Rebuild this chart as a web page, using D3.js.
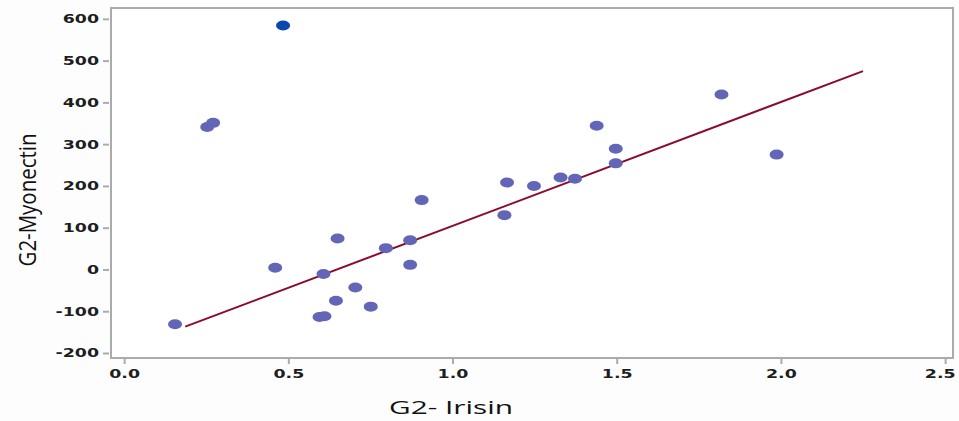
<!DOCTYPE html>
<html>
<head>
<meta charset="utf-8">
<script src="https://cdn.jsdelivr.net/npm/d3@7"></script>
<style>
  html, body { margin: 0; padding: 0; background: #fdfdfd; }
  svg { display: block; }
</style>
</head>
<body>
<div id="chart"></div>
<script>
// Data (G2 group)
const irisin = [0.155, 0.253, 0.271, 0.46, 0.906, 0.65, 0.871, 0.797, 0.871, 0.607, 0.704,
  0.645, 0.751, 0.595, 0.61, 1.166, 1.248, 1.329, 1.373, 1.497, 1.158, 1.819, 1.439, 1.497, 1.987];
const myonectin = [-131, 341, 351, 4, 166, 74, 70, 51, 11, -11, -43,
  -75, -89, -114, -112, 208, 200, 220, 217, 254, 130, 419, 344, 289, 275];

// the highlighted (selected) point
const selIrisin = [0.484];
const selMyonectin = [584];

// fit line end points
const fitX = [0.186, 2.25];
const fitY = [-137, 475];

const xTicks = [0.0, 0.5, 1.0, 1.5, 2.0, 2.5];
const yTicks = [-200, -100, 0, 100, 200, 300, 400, 500, 600];

const xTitle = "G2- Irisin";
const yTitle = "G2-Myonectin";

//==========================================
// Layout
//==========================================
const W = 959, H = 421;
const frame = { left: 111, top: 8, right: 953, bottom: 358 };
const STRETCH = 1.45; // labels in the picture are drawn wide

const svg = d3.select("#chart").append("svg")
  .attr("width", W)
  .attr("height", H);

svg.append("rect")
  .attr("width", W).attr("height", H)
  .attr("fill", "#fdfdfd");

const x = d3.scaleLinear()
  .domain([-0.04, 2.524])
  .range([frame.left, frame.right]);

const y = d3.scaleLinear()
  .domain([-212, 626])
  .range([frame.bottom, frame.top]);

// plot frame
svg.append("rect")
  .attr("x", frame.left)
  .attr("y", frame.top)
  .attr("width", frame.right - frame.left)
  .attr("height", frame.bottom - frame.top)
  .attr("fill", "#ffffff")
  .attr("stroke", "#ababab")
  .attr("stroke-width", 2);

// stretch a tick label horizontally around its anchor
function widen(sel) {
  sel.each(function () {
    const t = d3.select(this);
    const tx = +t.attr("x") || 0;
    t.attr("x", tx / STRETCH).attr("transform", `scale(${STRETCH},1)`);
  });
}

//==========================================
// Axes
//==========================================
const yAxis = svg.append("g")
  .attr("transform", `translate(${frame.left - 2},0)`)
  .call(d3.axisLeft(y).tickValues(yTicks).tickFormat(d3.format("d")).tickSize(6).tickPadding(4));

const xAxis = svg.append("g")
  .attr("transform", `translate(0,${frame.bottom + 1})`)
  .call(d3.axisBottom(x).tickValues(xTicks).tickFormat(d3.format(".1f")).tickSize(5).tickPadding(5));

[yAxis, xAxis].forEach(ax => {
  ax.select(".domain").remove();
  ax.selectAll(".tick line").attr("stroke", "#ababab").attr("stroke-width", 2);
  ax.selectAll(".tick text")
    .attr("fill", "#1e1e1e")
    .style("font", "bold 12px 'DejaVu Sans', sans-serif")
    .call(widen);
});
yAxis.selectAll(".tick text").text(d => d < 0 ? "-" + Math.abs(d) : d);
// last x label sits against the right edge in the picture
xAxis.selectAll(".tick text").filter(d => d === 2.5)
  .attr("text-anchor", "end")
  .attr("x", 10 / STRETCH);

//==========================================
// Fit line and points
//==========================================
svg.append("line")
  .attr("x1", x(fitX[0])).attr("y1", y(fitY[0]))
  .attr("x2", x(fitX[1])).attr("y2", y(fitY[1]))
  .attr("stroke", "#8c0a2c")
  .attr("stroke-width", 2);

const pts = irisin.map((v, i) => ({ x: v, y: myonectin[i] }));
svg.append("g").selectAll("ellipse")
  .data(pts)
  .enter().append("ellipse")
  .attr("cx", d => x(d.x))
  .attr("cy", d => y(d.y))
  .attr("rx", 7)
  .attr("ry", 5)
  .attr("fill", "#6366b6");

const sel = selIrisin.map((v, i) => ({ x: v, y: selMyonectin[i] }));
svg.append("g").selectAll("ellipse")
  .data(sel)
  .enter().append("ellipse")
  .attr("cx", d => x(d.x))
  .attr("cy", d => y(d.y))
  .attr("rx", 7)
  .attr("ry", 5)
  .attr("fill", "#0a47ae");

//==========================================
// Titles
//==========================================
svg.append("text")
  .attr("x", 451)
  .attr("y", 414)
  .attr("text-anchor", "middle")
  .attr("textLength", 124)
  .attr("lengthAdjust", "spacingAndGlyphs")
  .style("font", "19px 'Open Sans', sans-serif")
  .attr("fill", "#111")
  .text(xTitle);

svg.append("text")
  .attr("transform", "translate(36,200) rotate(-90)")
  .attr("text-anchor", "middle")
  .attr("textLength", 133)
  .attr("lengthAdjust", "spacingAndGlyphs")
  .style("font", "23px 'Open Sans', sans-serif")
  .attr("fill", "#111")
  .text(yTitle);
</script>
</body>
</html>
